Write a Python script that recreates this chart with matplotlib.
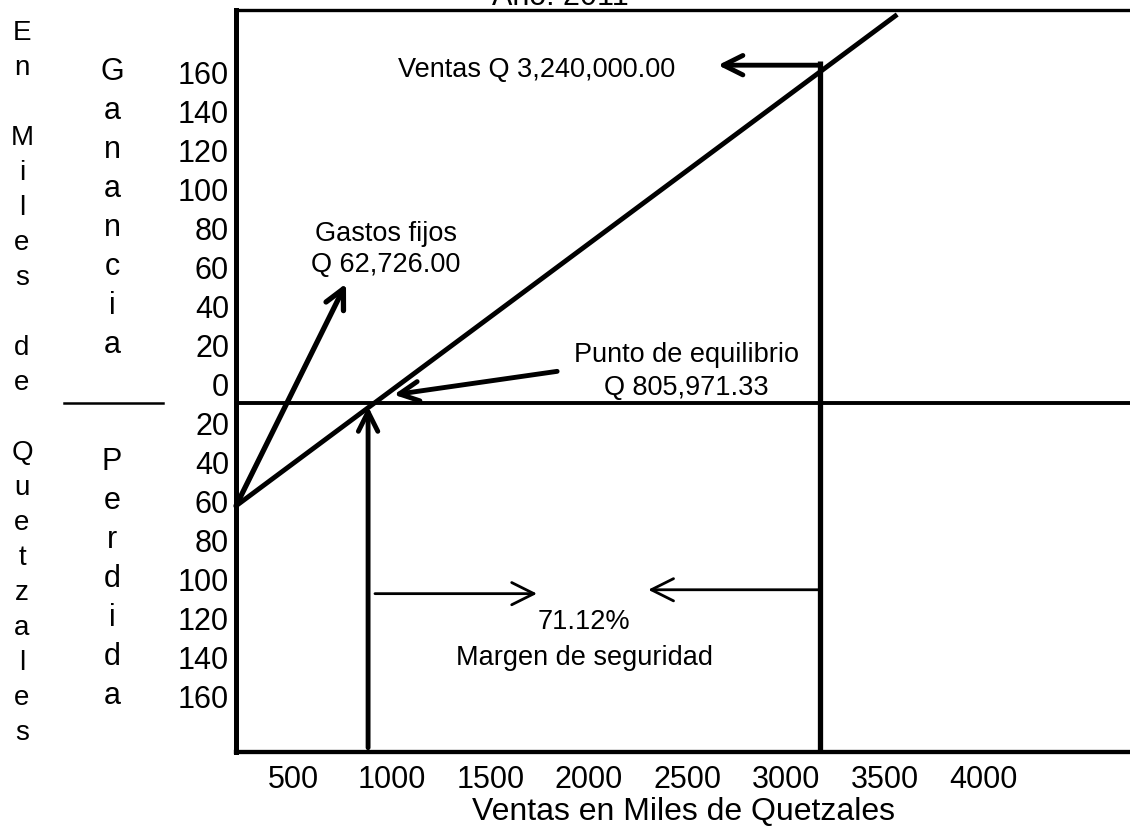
import matplotlib
matplotlib.use("Agg")
import matplotlib.pyplot as plt
from matplotlib.transforms import blended_transform_factory

plt.rcParams['font.family'] = ['Liberation Sans', 'DejaVu Sans']

# Datos (miles de quetzales)
ventas_ticks = [500, 1000, 1500, 2000, 2500, 3000, 3500, 4000]
ganancia_ticks = [0, 20, 40, 60, 80, 100, 120, 140, 160]
perdida_ticks = [20, 40, 60, 80, 100, 120, 140, 160]

# recta de ganancia / perdida
recta_x = [209, 3563]
recta_y = [-63, 189]

eje_y = -10           # linea de ganancia cero
equilibrio_x = 879    # vertical del punto de equilibrio
ventas_x = 3169       # vertical de las ventas
ventas_y = 165

# flechas: (x inicio, y inicio, x punta, y punta)
flecha_gastos = (209, -63, 767, 51)
flecha_equilibrio = (1838, 6, 1010, -6)
flecha_vertical = (equilibrio_x, -187, equilibrio_x, -12)
flecha_ventas = (ventas_x, 163, 2654, 163)
flecha_margen_izq = (914, -108, 1736, -108)
flecha_margen_der = (3162, -106, 2300, -106)

gastos_fijos = 62726.00
punto_equilibrio = 805971.33
ventas_total = 3240000.00
margen = 71.12
anio = 2011

W, H = 1130, 829
fig = plt.figure(figsize=(W / 100, H / 100), dpi=100)
ax = fig.add_axes([236 / W, 1 - 753 / H, (W - 236) / W, (753 - 11) / H])

ax.set_xlim(209, 4744)
ax.set_ylim(-189.2, 191.3)

# recta principal
ax.plot(recta_x, recta_y, color='black', lw=3.5, solid_capstyle='butt')
# linea cero
ax.axhline(eje_y, color='black', lw=2.8)
# vertical de ventas
ax.plot([ventas_x, ventas_x], [ventas_y, -189.2], color='black', lw=3.8,
        solid_capstyle='butt')


def flecha(datos, lw, hl=0.7, hw=0.35, ms=20):
    x0, y0, x1, y1 = datos
    ax.annotate('', xy=(x1, y1), xytext=(x0, y0),
                arrowprops=dict(arrowstyle=f'->,head_length={hl},head_width={hw}',
                                color='black', lw=lw, shrinkA=0, shrinkB=0,
                                mutation_scale=ms))


flecha(flecha_gastos, 3.8)
flecha(flecha_equilibrio, 3.5)
flecha(flecha_vertical, 3.5)
flecha(flecha_ventas, 3.5)
flecha(flecha_margen_izq, 2.0, hl=0.8, hw=0.4)
flecha(flecha_margen_der, 2.0, hl=0.8, hw=0.4)

# textos
ax.text(1031, 161, f"Ventas Q {ventas_total:,.2f}", ha='left', va='center', fontsize=19.5)
ax.text(970, 77, "Gastos fijos", ha='center', va='center', fontsize=19.5)
ax.text(970, 61, f"Q {gastos_fijos:,.2f}", ha='center', va='center', fontsize=19.5)
ax.text(2492, 15, "Punto de equilibrio", ha='center', va='center', fontsize=19.5)
ax.text(2492, -2, f"Q {punto_equilibrio:,.2f}", ha='center', va='center', fontsize=19.5)
ax.text(1976, -122, f"{margen:.2f}%", ha='center', va='center', fontsize=19.5)
ax.text(1976, -140.5, "Margen de seguridad", ha='center', va='center', fontsize=19.5)

# ejes
yt = ganancia_ticks + [-v for v in perdida_ticks]
ylab = [str(v) for v in ganancia_ticks] + [str(v) for v in perdida_ticks]
ax.set_yticks(yt, ylab)
ax.set_xticks(ventas_ticks, [str(v) for v in ventas_ticks])
ax.tick_params(axis='both', length=0, labelsize=22)
ax.tick_params(axis='y', pad=5)
ax.tick_params(axis='x', pad=9)
ax.spines['right'].set_visible(False)
ax.spines['left'].set_linewidth(3.6)
ax.spines['bottom'].set_linewidth(3.1)
ax.spines['top'].set_linewidth(2.4)
ax.set_xlabel("Ventas en Miles de Quetzales", fontsize=23, labelpad=1)

# columna de letras Ganancia / Perdida alineada con las marcas
tr = blended_transform_factory(fig.transFigure, ax.transData)
for letra, v in zip("Ganancia", ganancia_ticks[::-1]):
    ax.text(112 / W, v, letra, transform=tr, ha='center', va='center', fontsize=22)
for letra, v in zip("Perdida", perdida_ticks[1:]):
    ax.text(112 / W, -v, letra, transform=tr, ha='center', va='center', fontsize=22)

# separador entre ganancia y perdida
ax.plot([64 / W, 163 / W], [eje_y, eje_y], transform=tr, color='black', lw=1.8,
        clip_on=False)

# columna "En Miles de Quetzales"
for i, letra in enumerate("En Miles de Quetzales"):
    if letra != ' ':
        fig.text(22 / W, 1 - (33 + 35 * i) / H, letra, ha='center', va='center',
                 fontsize=20)

# titulo cortado arriba
fig.text(560 / W, 1 - 5 / H, f"Año: {anio}", ha='center', va='baseline', fontsize=22)

fig.savefig("out.png", dpi=100)
